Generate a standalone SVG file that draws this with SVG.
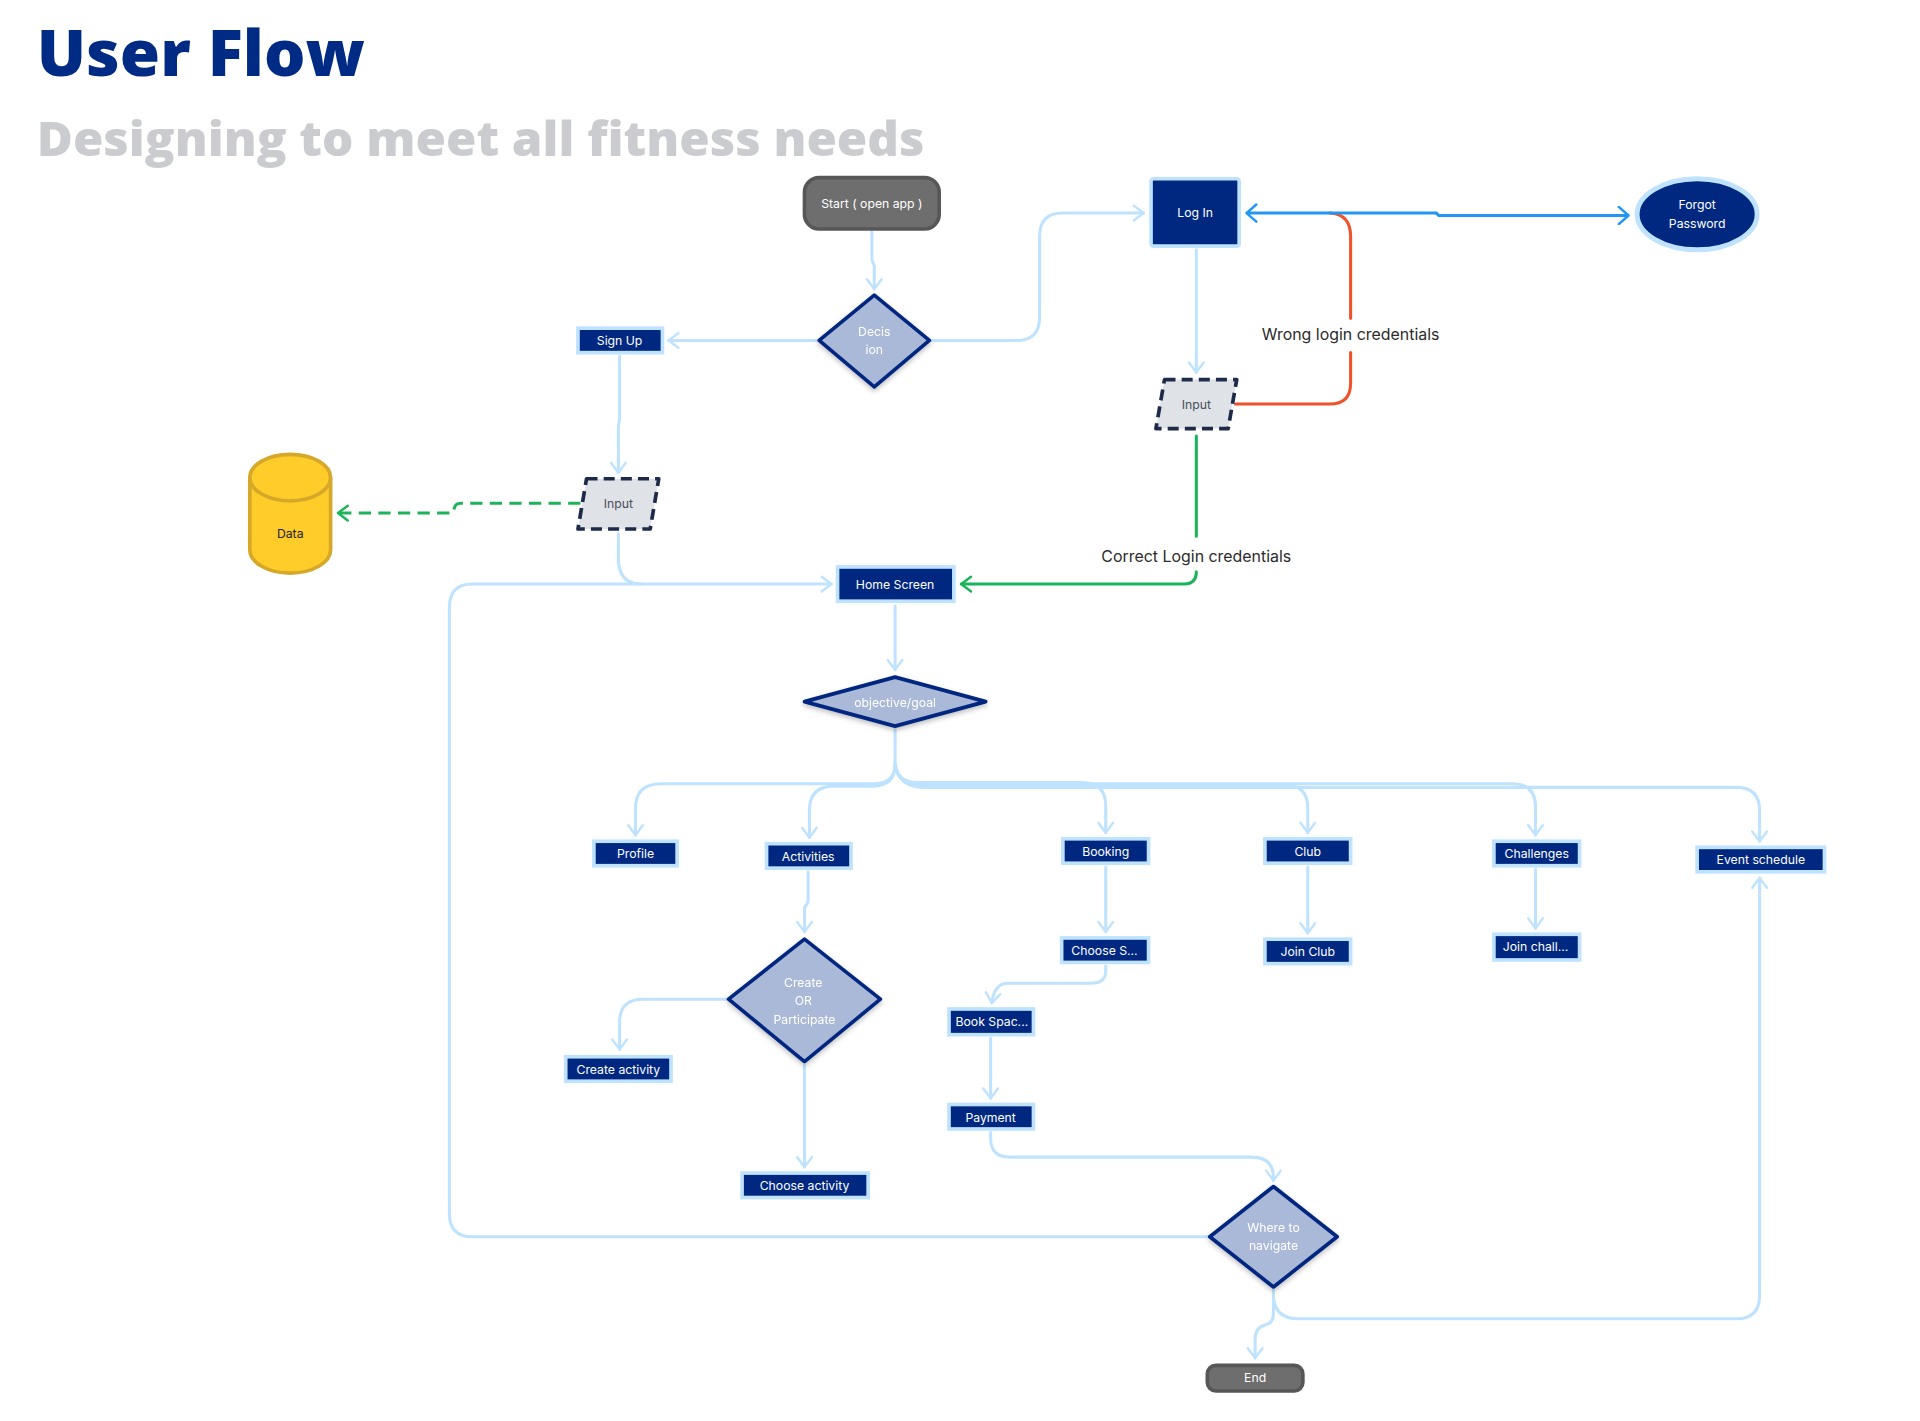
<svg xmlns="http://www.w3.org/2000/svg" width="1920" height="1421" viewBox="0 0 1920 1421">
<defs>
<style>
.lb{fill:none;stroke:#bfe3ff;stroke-width:2.5;stroke-linecap:round;stroke-linejoin:round}
.box{fill:#002880;stroke:#bfe3ff;stroke-width:3}
.dia{fill:#abb9d9;stroke:#002880;stroke-width:3;stroke-linejoin:round}
.term{fill:#6e6e6e;stroke:#575757;stroke-width:3}
.inp{fill:#dfe2e6;stroke:#1e2a4a;stroke-width:3;stroke-dasharray:9,5;stroke-linejoin:round}
.t{font-family:Inter,"Liberation Sans",sans-serif;font-size:10px;fill:#ffffff;text-anchor:middle}
.tg{font-family:Inter,"Liberation Sans",sans-serif;font-size:10px;fill:#4a4f5a;text-anchor:middle}
.lbl{font-family:Inter,"Liberation Sans",sans-serif;font-size:13px;fill:#2b2b2b;text-anchor:middle}
</style>
<marker id="aLB" viewBox="-10 -8 12 16" markerWidth="12" markerHeight="16" refX="0" refY="0" orient="auto" markerUnits="userSpaceOnUse"><path d="M-8,-6 L0,0 L-8,6" fill="none" stroke="#bfe3ff" stroke-width="2" stroke-linecap="round" stroke-linejoin="round"/></marker>
<marker id="aG" viewBox="-10 -8 12 16" markerWidth="12" markerHeight="16" refX="0" refY="0" orient="auto" markerUnits="userSpaceOnUse"><path d="M-8,-6 L0,0 L-8,6" fill="none" stroke="#1db35a" stroke-width="2" stroke-linecap="round" stroke-linejoin="round"/></marker>
<marker id="aB" viewBox="-10 -8 12 16" markerWidth="12" markerHeight="16" refX="0" refY="0" orient="auto-start-reverse" markerUnits="userSpaceOnUse"><path d="M-8,-7 L0,0 L-8,7" fill="none" stroke="#2196f3" stroke-width="2" stroke-linecap="round" stroke-linejoin="round"/></marker>
<filter id="sh" x="-20%" y="-20%" width="140%" height="150%"><feDropShadow dx="0" dy="2" stdDeviation="2" flood-color="#000" flood-opacity="0.25"/></filter>
</defs>
<rect width="1920" height="1421" fill="#ffffff"/>
<g transform="scale(1.22449)">
<g id="title">
<text x="30" y="62" font-family="'Open Sans','Liberation Sans',sans-serif" font-weight="800" font-size="52" fill="#002b85" textLength="268" lengthAdjust="spacingAndGlyphs">User Flow</text>
<text x="30" y="127" font-family="'Open Sans','Liberation Sans',sans-serif" font-weight="800" font-size="39" fill="#cbcccf" textLength="725" lengthAdjust="spacingAndGlyphs">Designing to meet all fitness needs</text>
</g>
<g id="connectors">
<path class="lb" d="M712,189 L712,210 Q712,214 714,217 L714,236" marker-end="url(#aLB)"/>
<path class="lb" d="M668,278 L546,278" marker-end="url(#aLB)"/>
<path class="lb" d="M760,278 L830,278 Q849,278 849,259 L849,193 Q849,174 868,174 L934,174" marker-end="url(#aLB)"/>
<path class="lb" d="M977,204 L977,304" marker-end="url(#aLB)"/>
<path class="lb" d="M506,291 L506,340 Q506,344 505,348 L505,386" marker-end="url(#aLB)"/>
<path class="lb" d="M505,436 L505,458 Q506,477 524,477 L679,477" marker-end="url(#aLB)"/>
<path class="lb" d="M987,1010 L386,1010 Q367,1010 367,991 L367,496 Q367,477 386,477 L524,477"/>
<path class="lb" d="M731,495 L731,547" marker-end="url(#aLB)"/>
<path class="lb" d="M731,596 L731,624 Q731,640 714,640 L540,640 Q519,640 519,660 L519,682" marker-end="url(#aLB)"/>
<path class="lb" d="M731,624 Q731,642 713,642 L681,642 Q661,642 661,662 L661,684" marker-end="url(#aLB)"/>
<path class="lb" d="M731,624 Q732,639 750,639 L884,639 Q903,639 903,658 L903,680" marker-end="url(#aLB)"/>
<path class="lb" d="M731,624 Q733,641 752,641 L1049,641 Q1068,641 1068,660 L1068,680" marker-end="url(#aLB)"/>
<path class="lb" d="M731,624 Q733,640 752,640 L1235,640 Q1254,640 1254,659 L1254,682" marker-end="url(#aLB)"/>
<path class="lb" d="M731,624 Q734,643 754,643 L1418,643 Q1437,643 1437,662 L1437,687" marker-end="url(#aLB)"/>
<path class="lb" d="M660,712 L660,735 Q660,738 657,741 L657,761" marker-end="url(#aLB)"/>
<path class="lb" d="M594,816 L525,816 Q506,816 506,835 L506,857" marker-end="url(#aLB)"/>
<path class="lb" d="M657,870 L657,953" marker-end="url(#aLB)"/>
<path class="lb" d="M903,708 L903,761" marker-end="url(#aLB)"/>
<path class="lb" d="M1068,708 L1068,762" marker-end="url(#aLB)"/>
<path class="lb" d="M1254,710 L1254,758" marker-end="url(#aLB)"/>
<path class="lb" d="M903,789 L903,793 Q903,803 891,803 L823,803 Q812,803 810,819" marker-end="url(#aLB)"/>
<path class="lb" d="M809,848 L809,897" marker-end="url(#aLB)"/>
<path class="lb" d="M809,925 L809,930 Q809,945 825,945 L1022,945 Q1040,945 1040,962 L1040,964" marker-end="url(#aLB)"/>
<path class="lb" d="M1040,1054 L1040,1072 Q1040,1081 1033,1082 Q1025,1084 1025,1094 L1025,1109" marker-end="url(#aLB)"/>
<path class="lb" d="M1040,1054 L1040,1060 Q1042,1077 1060,1077 L1418,1077 Q1437,1077 1437,1058 L1437,717" marker-end="url(#aLB)"/>
<path d="M1086,174 Q1103,175 1103,193 L1103,260 M1103,288 L1103,313 Q1103,330 1086,330 L1009,330" fill="none" stroke="#f0532b" stroke-width="2.5" stroke-linecap="round"/>
<path d="M1018,174 L1173,174 L1175,176 L1330,176" fill="none" stroke="#2196f3" stroke-width="2.5" marker-start="url(#aB)" marker-end="url(#aB)"/>
<path d="M977,356 L977,438 M977,467 Q977,477 967,477 L785,477" fill="none" stroke="#1db35a" stroke-width="2.5" stroke-linecap="round" marker-end="url(#aG)"/>
<path d="M474,411 L376,411 Q372,411 371,415 L370,419 L276,419" fill="none" stroke="#1db35a" stroke-width="2.5" stroke-dasharray="10,6" marker-end="url(#aG)"/>
<text class="lbl" x="1103" y="278">Wrong login credentials</text>
<text class="lbl" x="977" y="459">Correct Login credentials</text>
</g>
<g id="start"><rect class="term" x="657" y="145" width="110" height="42" rx="12"/><text class="t" x="712" y="170">Start ( open app )</text></g>
<g id="decision" filter="url(#sh)"><polygon class="dia" points="714,241 759,278 714,316 669,278"/><text class="t" x="714" y="274">Decis</text><text class="t" x="714" y="289">ion</text></g>
<g id="signup"><rect class="box" x="472" y="268" width="69" height="20"/><text class="t" x="506" y="282">Sign Up</text></g>
<g id="login"><rect class="box" x="940" y="146" width="72" height="55" rx="2"/><text class="t" x="976" y="177">Log In</text></g>
<g id="forgot"><ellipse cx="1386" cy="175" rx="49" ry="29" fill="#002880" stroke="#bfe3ff" stroke-width="4"/><text class="t" x="1386" y="171">Forgot</text><text class="t" x="1386" y="186">Password</text></g>
<g id="input-login"><polygon class="inp" points="951,310 1010,310 1003,350 944,350"/><text class="tg" x="977" y="334">Input</text></g>
<g id="input-signup"><polygon class="inp" points="479,391 538,391 531,432 472,432"/><text class="tg" x="505" y="415">Input</text></g>
<g id="data"><path d="M204,390 A33,19 0 0 1 270,390 L270,449 A33,19 0 0 1 204,449 Z" fill="#ffcc29" stroke="#d6a829" stroke-width="3"/><path d="M204,390 A33,19 0 0 0 270,390" fill="none" stroke="#d6a829" stroke-width="3"/><text x="237" y="439" font-family="Inter,'Liberation Sans',sans-serif" font-size="10" fill="#222" text-anchor="middle">Data</text></g>
<g id="home"><rect class="box" x="684" y="463" width="95" height="28"/><text class="t" x="731" y="481">Home Screen</text></g>
<g id="objective" filter="url(#sh)"><polygon class="dia" points="731,553 805,573 731,593 657,573"/><text class="t" x="731" y="577">objective/goal</text></g>
<g id="profile"><rect class="box" x="485" y="687" width="68" height="20"/><text class="t" x="519" y="701">Profile</text></g>
<g id="activities"><rect class="box" x="626" y="689" width="69" height="20"/><text class="t" x="660" y="703">Activities</text></g>
<g id="booking"><rect class="box" x="868" y="685" width="70" height="20"/><text class="t" x="903" y="699">Booking</text></g>
<g id="club"><rect class="box" x="1033" y="685" width="70" height="20"/><text class="t" x="1068" y="699">Club</text></g>
<g id="challenges"><rect class="box" x="1220" y="687" width="70" height="20"/><text class="t" x="1255" y="701">Challenges</text></g>
<g id="event"><rect class="box" x="1386" y="692" width="104" height="20"/><text class="t" x="1438" y="706">Event schedule</text></g>
<g id="choose-s"><rect class="box" x="867" y="766" width="71" height="20"/><text class="t" x="902" y="780">Choose S...</text></g>
<g id="join-club"><rect class="box" x="1033" y="767" width="70" height="20"/><text class="t" x="1068" y="781">Join Club</text></g>
<g id="join-chall"><rect class="box" x="1220" y="763" width="70" height="21"/><text class="t" x="1254" y="777">Join chall...</text></g>
<g id="create-or" filter="url(#sh)"><polygon class="dia" points="657,767 719,816 657,867 595,816"/><text class="t" x="656" y="806">Create</text><text class="t" x="656" y="821">OR</text><text class="t" x="657" y="836">Participate</text></g>
<g id="create-activity"><rect class="box" x="462" y="863" width="86" height="20"/><text class="t" x="505" y="877">Create activity</text></g>
<g id="choose-activity"><rect class="box" x="606" y="958" width="103" height="20"/><text class="t" x="657" y="972">Choose activity</text></g>
<g id="book-space"><rect class="box" x="775" y="824" width="69" height="21"/><text class="t" x="810" y="838">Book Spac...</text></g>
<g id="payment"><rect class="box" x="775" y="902" width="69" height="20"/><text class="t" x="809" y="916">Payment</text></g>
<g id="where" filter="url(#sh)"><polygon class="dia" points="1040,969 1092,1010 1040,1051 988,1010"/><text class="t" x="1040" y="1006">Where to</text><text class="t" x="1040" y="1021">navigate</text></g>
<g id="end"><rect class="term" x="986" y="1115" width="78" height="21" rx="7"/><text class="t" x="1025" y="1129">End</text></g>
</g>
</svg>
